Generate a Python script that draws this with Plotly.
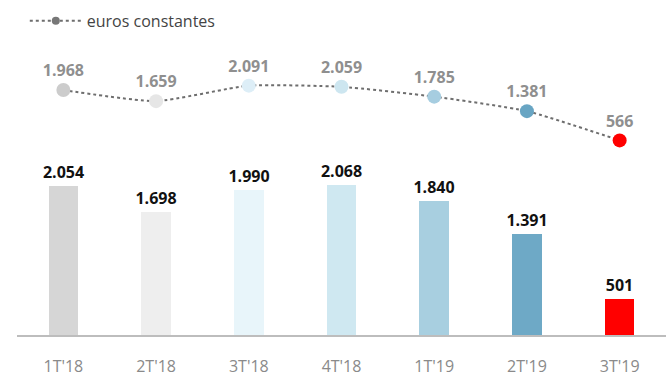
import plotly.graph_objects as go

# Quarterly data
quarters = ["1T'18", "2T'18", "3T'18", "4T'18", "1T'19", "2T'19", "3T'19"]
reported = [2054, 1698, 1990, 2068, 1840, 1391, 501]
constant_eur = [1968, 1659, 2091, 2059, 1785, 1381, 566]

bar_colors = ["#d6d6d6", "#eeeeee", "#e8f5fa", "#cfe8f1", "#a8cfe0", "#6ea9c6", "#ff0000"]
dot_colors = ["#cccccc", "#e6e6e6", "#ddeef7", "#cde6f0", "#a6cde0", "#68a5c3", "#ff0000"]


def fmt(v):
    # thousands separator as a dot
    return f"{v:,}".replace(",", ".")


FONT = "Open Sans"

fig = go.Figure()

fig.add_trace(go.Bar(
    x=quarters, y=reported,
    marker=dict(color=bar_colors, line=dict(width=0)),
    width=0.32,
    text=[fmt(v) for v in reported],
    textposition="outside",
    constraintext="none",
    textangle=0,
    textfont=dict(family=FONT, size=16, color="#111111", weight="bold"),
    cliponaxis=False,
    showlegend=False,
    hoverinfo="skip",
))

fig.add_trace(go.Scatter(
    x=quarters, y=constant_eur, yaxis="y2",
    mode="lines+markers+text",
    line=dict(color="#6e6e6e", width=2, dash="dot", shape="spline", smoothing=0.5),
    marker=dict(color=dot_colors, size=14),
    text=[fmt(v) for v in constant_eur],
    textposition="top center",
    textfont=dict(family=FONT, size=16, color="#8f8f8f", weight="bold"),
    cliponaxis=False,
    showlegend=False,
    hoverinfo="skip",
))

# legend entry for the constant-euro series
fig.add_trace(go.Scatter(
    x=[None], y=[None], yaxis="y2",
    mode="lines+markers",
    name="euros constantes",
    line=dict(color="#6e6e6e", width=2, dash="dot"),
    marker=dict(color="#777777", size=8),
    showlegend=True,
))

fig.update_layout(
    width=670, height=378,
    margin=dict(l=17, r=4, t=30, b=43),
    paper_bgcolor="white",
    plot_bgcolor="white",
    font=dict(family=FONT, size=16, color="#444444"),
    bargap=0,
    xaxis=dict(
        range=[-0.5, 6.5],
        automargin=False,
        showgrid=False, zeroline=False,
        showline=True, linecolor="#bdbdbd", linewidth=2,
        ticks="outside", ticklen=16, tickcolor="rgba(0,0,0,0)",
        tickfont=dict(family=FONT, size=16, color="#8a8a8a"),
        fixedrange=True,
    ),
    yaxis=dict(
        range=[0, 4195], automargin=False,
        visible=False, showgrid=False, zeroline=False,
    ),
    yaxis2=dict(
        range=[-4855, 3641], automargin=False,
        overlaying="y", visible=False, showgrid=False, zeroline=False,
    ),
    legend=dict(
        x=0.012, y=1.03, xanchor="left", yanchor="middle",
        orientation="h",
        font=dict(family=FONT, size=16, color="#444444"),
        itemwidth=52,
        bgcolor="rgba(0,0,0,0)",
    ),
)

fig.write_html("out.html")
